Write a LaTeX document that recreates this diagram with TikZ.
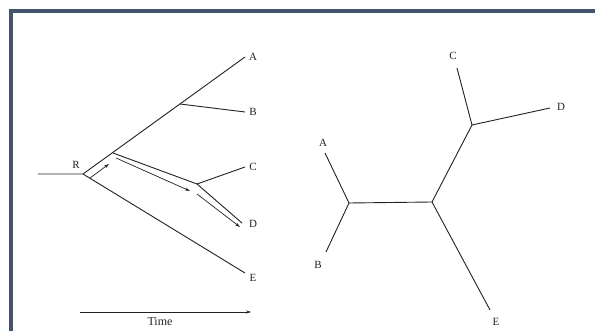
\documentclass[tikz,border=0pt]{standalone}
\usepackage{fontspec}
\setmainfont{Liberation Serif}
\usetikzlibrary{arrows.meta}
\definecolor{frame}{HTML}{44546A}
\definecolor{ink}{HTML}{222222}
\begin{document}
\begin{tikzpicture}[x=1pt,y=-1pt,
  edge/.style={draw=ink,line width=0.9pt},
  flow/.style={draw=ink,line width=0.7pt,-{Stealth[length=5pt,width=3pt]}},
  lab/.style={font=\fontsize{11}{13}\selectfont,text=ink,inner sep=1pt}]
\useasboundingbox (0,0) rectangle (595,331);
\fill[white] (0,0) rectangle (595,331);
% frame
\draw[frame,line width=4pt] (11,331) -- (11,11) -- (595,11);
% ---------- left tree ----------
\coordinate (start) at (38,174);
\coordinate (R) at (83,174);
\coordinate (n1) at (113,153);
\coordinate (n2) at (180,104);
\coordinate (n3) at (197,184);
\coordinate (A1) at (245,57);
\coordinate (B1) at (245,112);
\coordinate (C1) at (245,167);
\coordinate (D1) at (242,223);
\coordinate (E1) at (245,273);
\node[lab] (lR) at (76,165) {R};
\node[lab] (lA1) at (253,57) {A};
\node[lab] (lB1) at (253,112) {B};
\node[lab] (lC1) at (253,167) {C};
\node[lab] (lD1) at (253,224) {D};
\node[lab] (lE1) at (253,278) {E};
\draw[edge] (start) -- (R) -- (A1);
\draw[edge] (n2) -- (B1);
\draw[edge] (n1) -- (n3) -- (C1);
\draw[edge] (n3) -- (D1);
\draw[edge] (R) -- (E1);
% flow arrows parallel to the path
\coordinate (f1) at (90,178);
\coordinate (f2) at (109,164);
\coordinate (f3) at (116,158);
\coordinate (f4) at (190,191);
\coordinate (f5) at (197,194);
\coordinate (f6) at (240,227);
\draw[flow] (f1) -- (f2);
\draw[flow] (f3) -- (f4);
\draw[flow] (f5) -- (f6);
% time axis
\coordinate (t1) at (80,312);
\coordinate (t2) at (251,312);
\draw[flow] (t1) -- (t2);
\node[lab,font=\fontsize{12}{14}\selectfont] (time) at (160,322) {Time};
% ---------- right tree ----------
\coordinate (AB) at (349,203);
\coordinate (mid) at (432,202);
\coordinate (CD) at (472,125);
\coordinate (A2) at (325,153);
\coordinate (B2) at (326,252);
\coordinate (C2) at (457,68);
\coordinate (D2) at (550,108);
\coordinate (E2) at (490,310);
\node[lab] (lA2) at (323,143) {A};
\node[lab] (lB2) at (318,265) {B};
\node[lab] (lC2) at (453,56) {C};
\node[lab] (lD2) at (561,107) {D};
\node[lab] (lE2) at (496,322) {E};
\draw[edge] (A2) -- (AB) -- (B2);
\draw[edge] (AB) -- (mid) -- (CD) -- (C2);
\draw[edge] (CD) -- (D2);
\draw[edge] (mid) -- (E2);
\end{tikzpicture}
\end{document}
